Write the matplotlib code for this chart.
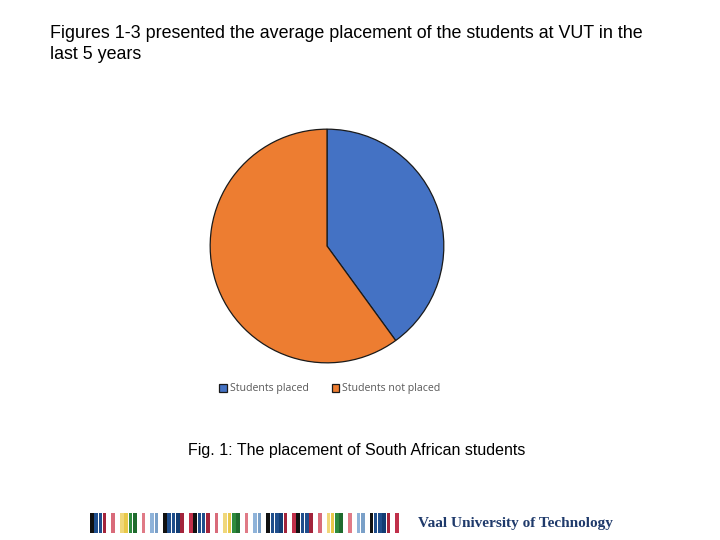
import matplotlib.pyplot as plt
from matplotlib.patches import Rectangle

# data
labels = ["Students placed", "Students not placed"]
values = [40, 60]
colors = ["#4472c4", "#ed7d31"]

title = "Figures 1-3 presented the average placement of the students at VUT in the\nlast 5 years"
caption = "Fig. 1: The placement of South African students"

# decorative stripe colours for the footer logo
stripe_cols = ["#111111", "#1f4e8c", "#1f4e8c", "#a3243b", "#ffffff", "#d96b7a",
               "#ffffff", "#f0d77a", "#e8c84a", "#2e8b3e", "#1f6b2e", "#ffffff",
               "#e07a86", "#ffffff", "#8fb3d9", "#7aa0c8", "#ffffff", "#111111",
               "#1f4e8c", "#1f4e8c", "#123d73", "#a3243b", "#ffffff", "#c0304a"]

fig = plt.figure(figsize=(7.2, 5.4), dpi=100)
fig.patch.set_facecolor("white")

fig.text(50 / 720, 1 - 25 / 540, title, fontsize=12.9, family="Liberation Sans",
         va="top", ha="left", linespacing=1.3)

ax = fig.add_axes([209 / 720, 176 / 540, 236 / 720, 236 / 540])
wedges, _ = ax.pie(values, colors=colors, startangle=90, counterclock=False,
                   wedgeprops=dict(edgecolor="#1a1a1a", linewidth=0.9))
ax.set_xlim(-1.01, 1.01)
ax.set_ylim(-1.01, 1.01)
ax.set_aspect("equal")

fig.legend(wedges, labels, loc="center", bbox_to_anchor=(330 / 720, 1 - 389 / 540),
           ncol=2, frameon=False, handlelength=0.7, handleheight=0.7,
           handletextpad=0.3, columnspacing=2.2, labelcolor="#595959",
           prop={"family": "Open Sans", "size": 7.6})

fig.text(357 / 720, 1 - 451 / 540, caption, fontsize=11.5, family="Liberation Sans",
         ha="center", va="center")

# footer stripes
fax = fig.add_axes([0, 0, 1, 1], zorder=-1)
fax.set_xlim(0, 720)
fax.set_ylim(540, 0)
fax.axis("off")
x = 90
for rep in range(3):
    for c in stripe_cols:
        fax.add_patch(Rectangle((x, 513), 3.6, 20, color=c, lw=0))
        x += 4.3
fax.text(418, 523, "Vaal University of Technology", fontsize=11,
         family="Liberation Serif", weight="bold", color="#1f3a6b",
         va="center", ha="left")

fig.savefig("out.png", dpi=100)
